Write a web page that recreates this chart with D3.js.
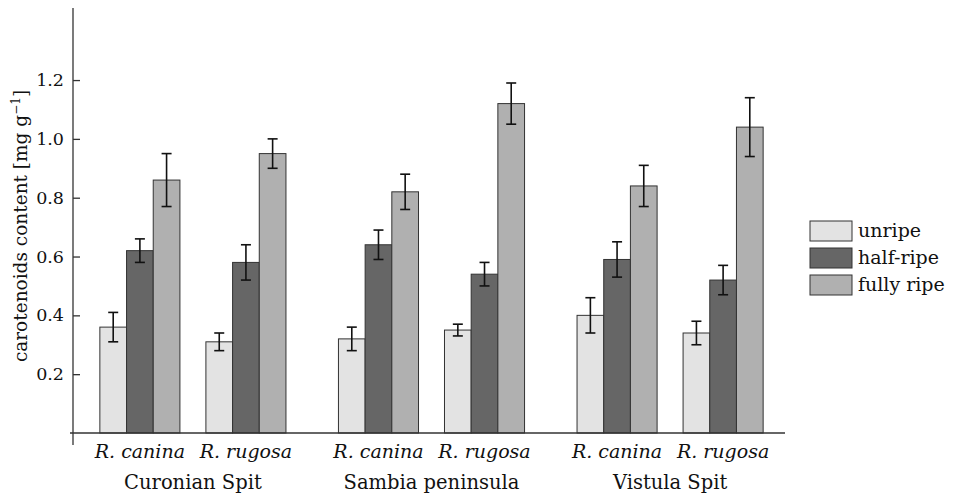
<!DOCTYPE html>
<html>
<head>
<meta charset="utf-8">
<script src="https://cdn.jsdelivr.net/npm/d3@7"></script>
<style>
  body { margin: 0; background: #fff; }
  svg text { font-family: "DejaVu Serif", serif; fill: #111; }
</style>
</head>
<body>
<svg id="chart"></svg>
<script>
const sites = ["Curonian Spit", "Sambia peninsula", "Vistula Spit"];
const species = ["R. canina", "R. rugosa"];
const stages = ["unripe", "half-ripe", "fully ripe"];
const stageColors = ["#e3e3e3", "#666666", "#b0b0b0"];

// values per site, then species, in stage order
const means = [
    [[0.36, 0.62, 0.86], [0.31, 0.58, 0.95]],
    [[0.32, 0.64, 0.82], [0.35, 0.54, 1.12]],
    [[0.40, 0.59, 0.84], [0.34, 0.52, 1.04]]
];
const errors = [
    [[0.05, 0.04, 0.09], [0.03, 0.06, 0.05]],
    [[0.04, 0.05, 0.06], [0.02, 0.04, 0.07]],
    [[0.06, 0.06, 0.07], [0.04, 0.05, 0.10]]
];
const yTicks = [0.2, 0.4, 0.6, 0.8, 1.0, 1.2];

const svgWidth = 954, svgHeight = 495;
const axisX = 73, baseY = 433;

const svg = d3.select("#chart")
    .attr("width", svgWidth)
    .attr("height", svgHeight);

const y = d3.scaleLinear().domain([0, 1.445]).range([baseY, 8]);

const xSite = d3.scaleBand().domain(sites).range([76, 787])
    .paddingInner(0.22).paddingOuter(0.1);
const xSpecies = d3.scaleBand().domain(species).range([0, xSite.bandwidth()])
    .paddingInner(0.245).paddingOuter(0);
const xStage = d3.scaleBand().domain(stages).range([0, xSpecies.bandwidth()]);

// flatten data
let rows = [];
sites.forEach((s, i) => {
    species.forEach((sp, j) => {
        stages.forEach((st, k) => {
            rows.push({site: s, species: sp, stage: st, k: k,
                       value: means[i][j][k], err: errors[i][j][k]});
        });
    });
});

const xPos = d => xSite(d.site) + xSpecies(d.species) + xStage(d.stage);

// bars
svg.append("g").selectAll("rect")
    .data(rows)
    .enter()
    .append("rect")
    .attr("x", d => xPos(d))
    .attr("y", d => y(d.value))
    .attr("width", xStage.bandwidth())
    .attr("height", d => y(0) - y(d.value))
    .attr("fill", d => stageColors[d.k])
    .attr("stroke", "#333")
    .attr("stroke-width", 1);

// error bars
const eb = svg.append("g").attr("stroke", "#111").attr("stroke-width", 1.6);
rows.forEach(d => {
    const cx = xPos(d) + xStage.bandwidth() / 2;
    eb.append("line").attr("x1", cx).attr("x2", cx)
        .attr("y1", y(d.value + d.err)).attr("y2", y(d.value - d.err));
    [d.value + d.err, d.value - d.err].forEach(v => {
        eb.append("line").attr("x1", cx - 5).attr("x2", cx + 5)
            .attr("y1", y(v)).attr("y2", y(v));
    });
});

// axes
svg.append("line")
    .attr("x1", axisX).attr("x2", axisX).attr("y1", 8).attr("y2", 445)
    .attr("stroke", "#333").attr("stroke-width", 1.3);
svg.append("line")
    .attr("x1", 70).attr("x2", 785).attr("y1", baseY).attr("y2", baseY)
    .attr("stroke", "#333").attr("stroke-width", 1.3);

const yAxis = svg.append("g")
    .attr("transform", `translate(${axisX},0)`)
    .call(d3.axisLeft(y).tickValues(yTicks).tickFormat(d3.format(".1f"))
        .tickSize(-7).tickPadding(9));
yAxis.select(".domain").remove();
yAxis.selectAll(".tick line").attr("stroke", "#333").attr("stroke-width", 1.3);
yAxis.selectAll(".tick text").style("font-size", "17.5px")
    .style("font-family", "DejaVu Serif, serif").attr("fill", "#111");

// y label
const yl = svg.append("text")
    .attr("transform", "translate(27,226) rotate(-90)")
    .attr("text-anchor", "middle")
    .style("font-size", "18.5px");
yl.append("tspan").text("carotenoids content [mg g");
yl.append("tspan").text("\u22121").attr("dy", -7).style("font-size", "12px");
yl.append("tspan").text("]").attr("dy", 7);

// species labels
sites.forEach(s => {
    species.forEach(sp => {
        svg.append("text")
            .attr("x", xSite(s) + xSpecies(sp) + xSpecies.bandwidth() / 2)
            .attr("y", 458)
            .attr("text-anchor", "middle")
            .style("font-size", "19px")
            .style("font-style", "italic")
            .text(sp);
    });
    svg.append("text")
        .attr("x", xSite(s) + xSite.bandwidth() / 2)
        .attr("y", 489)
        .attr("text-anchor", "middle")
        .style("font-size", "19.5px")
        .text(s);
});

// legend
const legend = svg.append("g").attr("transform", "translate(810,221)");
stages.forEach((st, i) => {
    legend.append("rect")
        .attr("x", 0).attr("y", i * 27)
        .attr("width", 42).attr("height", 20)
        .attr("fill", stageColors[i])
        .attr("stroke", "#333");
    legend.append("text")
        .attr("x", 48).attr("y", i * 27 + 16)
        .style("font-size", "19px")
        .text(st);
});
</script>
</body>
</html>
